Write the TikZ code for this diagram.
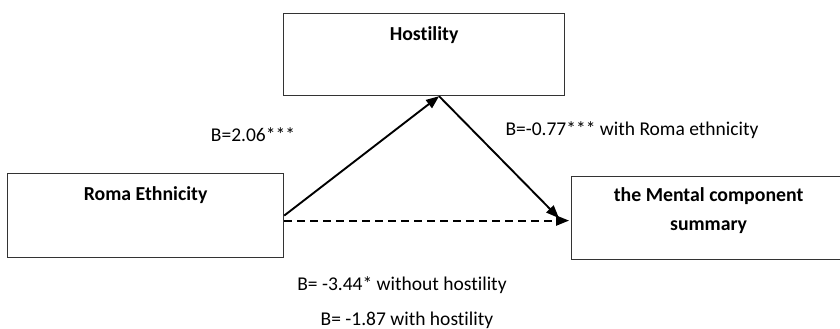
\documentclass[tikz,border=0pt]{standalone}
\usepackage{fontspec}
\setmainfont{Carlito}[Ligatures=NoCommon]
\usetikzlibrary{positioning, calc, arrows.meta}
\tikzset{
	varbox/.style={
			draw=black!80,
			line width=1.2pt,
			fill=white,
			inner sep=0pt,
			anchor=north west
		},
	boxtitle/.style={
			font=\fontsize{19.8}{29}\selectfont\bfseries,
			align=center,
			inner sep=0pt
		},
	coeflabel/.style={
			font=\fontsize{19.5}{24}\selectfont,
			inner sep=0pt
		},
	patharrow/.style={
			line width=1.9pt,
			-{Triangle[length=13pt,width=10pt]}
		}
}
\begin{document}
\begin{tikzpicture}[x=1pt, y=-1pt]
	\clip (0,0) rectangle (840,329);
	\fill[white] (0,0) rectangle (840,329);

	% variables
	\node[varbox, minimum width=281pt, minimum height=82pt] (hos) at (283,13) {};
	\node[varbox, minimum width=276pt, minimum height=84pt] (roma) at (7,173) {};
	\node[varbox, minimum width=274pt, minimum height=83pt] (mcs) at (571,176) {};

	\node[boxtitle] (hostitle) at ([yshift=-22pt]hos.north) {Hostility};
	\node[boxtitle] (romatitle) at ([yshift=-22pt]roma.north) {Roma Ethnicity};
	\node[boxtitle] (mcstitle) at ([yshift=-35pt]mcs.north) {the Mental component\\summary};

	\coordinate (apex) at ([xshift=15pt]hos.south);

	% paths
	\draw[patharrow] (roma.east) -- (apex);
	\draw[patharrow] (apex) -- ([xshift=-12pt]mcs.west);
	\draw[patharrow, dash pattern=on 8pt off 5pt] ([yshift=-5pt]roma.east) -- ([xshift=-2pt, yshift=-2.5pt]mcs.west);

	% coefficients
	\node[coeflabel] (bA) at (253,135) {B=2.06***};
	\node[coeflabel] (bB) at (632,130) {B=-0.77*** with Roma ethnicity};
	\node[coeflabel] (cA) at (402,285) {B= -3.44* without hostility};
	\node[coeflabel] (cB) at (407,320) {B= -1.87 with hostility};
\end{tikzpicture}
\end{document}
